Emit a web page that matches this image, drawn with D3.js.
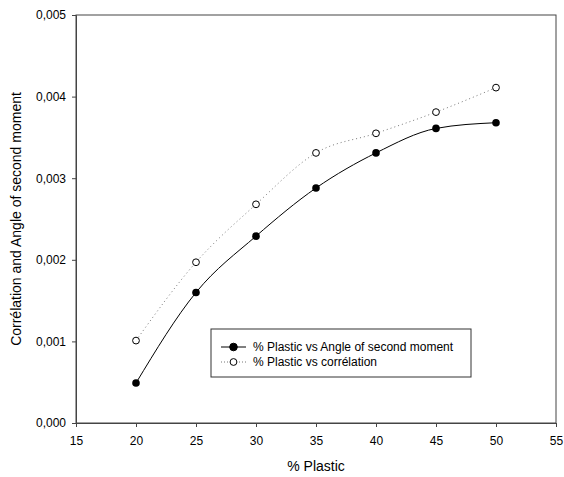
<!DOCTYPE html>
<html>
<head>
<meta charset="utf-8">
<script src="https://cdn.jsdelivr.net/npm/d3@7"></script>
<style>
  body { margin: 0; background: #fff; }
  text { font-family: "Liberation Sans", Arial, sans-serif; fill: #000; }
</style>
</head>
<body>
<div id="chart"></div>
<script>
// Data
var plastic = [20, 25, 30, 35, 40, 45, 50];
var angleSecondMoment = [0.00049, 0.00160, 0.00229, 0.00288, 0.00331, 0.00361, 0.00368];
var correlation = [0.00101, 0.00197, 0.00268, 0.00331, 0.00355, 0.00381, 0.00411];
var xTicks = [15, 20, 25, 30, 35, 40, 45, 50, 55];
var yTicks = [0, 0.001, 0.002, 0.003, 0.004, 0.005];
var seriesNames = ["% Plastic vs Angle of second moment", "% Plastic vs corrélation"];

var width = 564, height = 477;
var margin = { left: 76, top: 15, right: 8, bottom: 54 };

var svg = d3.select("#chart").append("svg")
    .attr("width", width)
    .attr("height", height);

var x = d3.scaleLinear().domain([15, 55]).range([margin.left, width - margin.right]);
var y = d3.scaleLinear().domain([0, 0.005]).range([height - margin.bottom, margin.top]);

var fmt = function (d) { return d3.format(".3f")(d).replace(".", ","); };

// frame
svg.append("rect")
    .attr("x", x(15)).attr("y", y(0.005))
    .attr("width", x(55) - x(15)).attr("height", y(0) - y(0.005))
    .style("fill", "none").style("stroke", "#444").style("stroke-width", 1);

// axes
var xAxis = svg.append("g")
    .attr("transform", "translate(0," + y(0) + ")")
    .call(d3.axisBottom(x).tickValues(xTicks).tickSize(4).tickPadding(9));
var yAxis = svg.append("g")
    .attr("transform", "translate(" + x(15) + ",0)")
    .call(d3.axisLeft(y).tickValues(yTicks).tickFormat(fmt).tickSize(4).tickPadding(6));
[xAxis, yAxis].forEach(function (g) {
    g.select(".domain").style("stroke", "#444");
    g.selectAll(".tick line").style("stroke", "#444");
    g.selectAll("text").style("font-size", "12px").style("font-family", "Liberation Sans, Arial, sans-serif");
});

// axis titles
svg.append("text")
    .attr("x", (x(15) + x(55)) / 2)
    .attr("y", 471)
    .attr("text-anchor", "middle")
    .style("font-size", "14px")
    .text("% Plastic");
svg.append("text")
    .attr("transform", "translate(21," + (y(0) + y(0.005)) / 2 + ") rotate(-90)")
    .attr("text-anchor", "middle")
    .style("font-size", "14px")
    .text("Corrélation and Angle of second moment");

var solidData = plastic.map(function (p, i) { return [p, angleSecondMoment[i]]; });
var dotData = plastic.map(function (p, i) { return [p, correlation[i]]; });

var smooth = d3.line().x(d => x(d[0])).y(d => y(d[1])).curve(d3.curveMonotoneX);

svg.append("path")
    .datum(dotData)
    .attr("d", smooth)
    .style("fill", "none").style("stroke", "#777").style("stroke-width", 1)
    .style("stroke-dasharray", "1,3");
svg.append("path")
    .datum(solidData)
    .attr("d", smooth)
    .style("fill", "none").style("stroke", "#000").style("stroke-width", 1);

svg.selectAll(".open")
    .data(dotData).enter().append("circle")
    .attr("class", "open")
    .attr("cx", d => x(d[0])).attr("cy", d => y(d[1])).attr("r", 3.4)
    .style("fill", "#fff").style("stroke", "#000").style("stroke-width", 1);
svg.selectAll(".filled")
    .data(solidData).enter().append("circle")
    .attr("class", "filled")
    .attr("cx", d => x(d[0])).attr("cy", d => y(d[1])).attr("r", 3.8)
    .style("fill", "#000");

// legend
var lg = svg.append("g").attr("transform", "translate(211,329)");
lg.append("rect")
    .attr("width", 260).attr("height", 48)
    .style("fill", "#fff").style("stroke", "#333").style("stroke-width", 1);
seriesNames.forEach(function (name, i) {
    var cy = 18 + i * 15;
    lg.append("line")
        .attr("x1", 10).attr("x2", 35).attr("y1", cy).attr("y2", cy)
        .style("stroke", i === 0 ? "#000" : "#777")
        .style("stroke-dasharray", i === 0 ? null : "1,2");
    lg.append("circle")
        .attr("cx", 22.5).attr("cy", cy).attr("r", i === 0 ? 3.8 : 3.4)
        .style("fill", i === 0 ? "#000" : "#fff")
        .style("stroke", "#000");
    lg.append("text")
        .attr("x", 42).attr("y", cy + 4)
        .style("font-size", "12px")
        .text(name);
});
</script>
</body>
</html>
